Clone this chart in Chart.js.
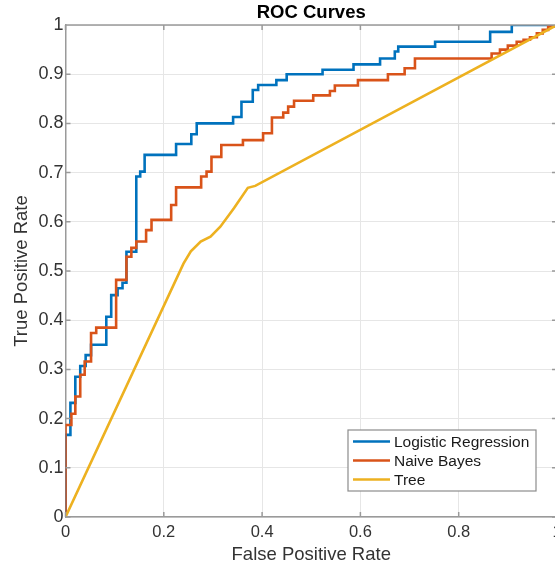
<!DOCTYPE html>
<html>
<head>
<meta charset="utf-8">
<script src="https://cdn.jsdelivr.net/npm/chart.js@4.4.1/dist/chart.umd.min.js"></script>
<style>
  html, body { margin: 0; padding: 0; background: #fff; overflow: hidden; }
  #wrap { width: 557px; height: 569px; }
</style>
</head>
<body>
<div id="wrap"><canvas id="roc"></canvas></div>
<script>
// ROC points: x = false positive rate, y = true positive rate
var lrFpr = [0, 0, 0.010, 0.020, 0.030, 0.041, 0.052, 0.083, 0.093, 0.106, 0.116, 0.124, 0.144, 0.152, 0.161, 0.225, 0.256, 0.267, 0.341, 0.358, 0.381, 0.392, 0.429, 0.450, 0.523, 0.586, 0.640, 0.670, 0.677, 0.752, 0.864, 0.908, 1];
var lrTpr = [0, 0.167, 0.232, 0.285, 0.307, 0.329, 0.350, 0.407, 0.451, 0.465, 0.476, 0.539, 0.692, 0.702, 0.736, 0.758, 0.778, 0.800, 0.813, 0.844, 0.868, 0.878, 0.888, 0.900, 0.909, 0.920, 0.932, 0.946, 0.956, 0.966, 0.986, 1, 1];

var nbFpr = [0, 0, 0.012, 0.020, 0.030, 0.039, 0.052, 0.0625, 0.103, 0.124, 0.134, 0.144, 0.164, 0.175, 0.215, 0.225, 0.276, 0.287, 0.297, 0.317, 0.361, 0.402, 0.420, 0.443, 0.453, 0.465, 0.504, 0.538, 0.548, 0.595, 0.656, 0.690, 0.711, 0.867, 0.884, 0.900, 0.918, 0.932, 0.945, 0.959, 0.971, 0.982, 1];
var nbTpr = [0, 0.187, 0.21, 0.245, 0.289, 0.316, 0.374, 0.385, 0.482, 0.529, 0.547, 0.56, 0.583, 0.604, 0.634, 0.670, 0.692, 0.702, 0.732, 0.756, 0.766, 0.780, 0.812, 0.822, 0.834, 0.846, 0.857, 0.866, 0.877, 0.888, 0.900, 0.912, 0.932, 0.942, 0.950, 0.958, 0.966, 0.970, 0.975, 0.983, 0.990, 0.997, 1];

var treeFpr = [0, 0.240, 0.255, 0.275, 0.295, 0.315, 0.343, 0.371, 0.386, 1];
var treeTpr = [0, 0.515, 0.540, 0.560, 0.570, 0.590, 0.628, 0.669, 0.673, 1];

var seriesNames = ['Logistic Regression', 'Naive Bayes', 'Tree'];
var seriesColors = ['#0072BD', '#D95319', '#EDB120'];

var xTicks = [0, 0.2, 0.4, 0.6, 0.8, 1];
var yTicks = [0, 0.1, 0.2, 0.3, 0.4, 0.5, 0.6, 0.7, 0.8, 0.9, 1];

function toPoints(xs, ys) {
    return xs.map(function (x, i) { return { x: x, y: ys[i] }; });
}

var axisColor = '#9a9a9a';
var textColor = '#333333';
var fontFamily = '"Liberation Sans", Arial, Helvetica, sans-serif';

// matlab style box, inner ticks and the legend inside the axes
var boxPlugin = {
    id: 'matlabBox',
    afterDraw: function (chart) {
        var ctx = chart.ctx;
        var a = chart.chartArea;
        var xs = chart.scales.x, ys = chart.scales.y;
        ctx.save();
        ctx.strokeStyle = axisColor;
        ctx.lineWidth = 1.5;
        ctx.beginPath();
        ctx.moveTo(a.left, a.top);
        ctx.lineTo(a.right, a.top);
        ctx.lineTo(a.right, a.bottom);
        xTicks.forEach(function (t) {
            var px = xs.getPixelForValue(t);
            ctx.moveTo(px, a.bottom); ctx.lineTo(px, a.bottom - 5);
            ctx.moveTo(px, a.top); ctx.lineTo(px, a.top + 5);
        });
        yTicks.forEach(function (t) {
            var py = ys.getPixelForValue(t);
            ctx.moveTo(a.left, py); ctx.lineTo(a.left + 5, py);
            ctx.moveTo(a.right, py); ctx.lineTo(a.right - 5, py);
        });
        ctx.stroke();

        // legend
        var bx = a.right - 209, by = a.bottom - 87, bw = 188, bh = 61;
        ctx.fillStyle = '#ffffff';
        ctx.fillRect(bx, by, bw, bh);
        ctx.lineWidth = 1.2;
        ctx.strokeStyle = '#8c8c8c';
        ctx.strokeRect(bx, by, bw, bh);
        ctx.font = '15.5px ' + fontFamily;
        ctx.textBaseline = 'middle';
        ctx.textAlign = 'left';
        chart.data.datasets.forEach(function (ds, i) {
            var ry = by + 11.5 + i * 19;
            ctx.strokeStyle = ds.borderColor;
            ctx.lineWidth = 2.5;
            ctx.beginPath();
            ctx.moveTo(bx + 5, ry);
            ctx.lineTo(bx + 42, ry);
            ctx.stroke();
            ctx.fillStyle = '#1a1a1a';
            ctx.fillText(ds.label, bx + 46, ry + 1);
        });
        ctx.restore();
    }
};

var ctx = document.getElementById('roc').getContext('2d');
var chart = new Chart(ctx, {
    type: 'line',
    data: {
        datasets: [{
            label: seriesNames[0],
            data: toPoints(lrFpr, lrTpr),
            borderColor: seriesColors[0],
            stepped: 'before',
            order: 3
        }, {
            label: seriesNames[1],
            data: toPoints(nbFpr, nbTpr),
            borderColor: seriesColors[1],
            stepped: 'before',
            order: 2
        }, {
            label: seriesNames[2],
            data: toPoints(treeFpr, treeTpr),
            borderColor: seriesColors[2],
            order: 1
        }]
    },
    options: {
        responsive: true,
        maintainAspectRatio: false,
        animation: false,
        layout: { padding: 0 },
        elements: {
            point: { radius: 0 },
            line: { borderWidth: 2.6, tension: 0, fill: false, borderJoinStyle: 'miter' }
        },
        plugins: {
            legend: { display: false },
            tooltip: { enabled: false },
            title: {
                display: true,
                text: 'ROC Curves',
                fullSize: false,
                color: '#000000',
                font: { family: fontFamily, size: 18.5, weight: 'bold' },
                padding: { top: 2, bottom: 0.8 }
            }
        },
        scales: {
            x: {
                type: 'linear',
                min: 0,
                max: 1,
                afterBuildTicks: function (s) { s.ticks = xTicks.map(function (v) { return { value: v }; }); },
                afterFit: function (s) { s.height = 52; s.paddingLeft = 0; s.paddingRight = 0; },
                ticks: {
                    color: textColor,
                    padding: 6,
                    maxRotation: 0,
                    font: { family: fontFamily, size: 16.5 },
                    callback: function (v) { return String(v); }
                },
                grid: { color: '#e6e6e6', lineWidth: 1, drawTicks: false },
                border: { color: axisColor, width: 1.5 },
                title: {
                    display: true,
                    text: 'False Positive Rate',
                    color: textColor,
                    font: { family: fontFamily, size: 18.5 },
                    padding: { top: 0, bottom: 2.9 }
                }
            },
            y: {
                type: 'linear',
                min: 0,
                max: 1,
                afterBuildTicks: function (s) { s.ticks = yTicks.map(function (v) { return { value: v }; }); },
                afterFit: function (s) { s.width = 65.5; s.paddingTop = 0; s.paddingBottom = 0; },
                ticks: {
                    color: textColor,
                    padding: 2,
                    font: { family: fontFamily, size: 18 },
                    callback: function (v) { return String(v); }
                },
                grid: { color: '#e6e6e6', lineWidth: 1, drawTicks: false },
                border: { color: axisColor, width: 1.5 },
                title: {
                    display: true,
                    text: 'True Positive Rate',
                    color: textColor,
                    font: { family: fontFamily, size: 18.5 },
                    padding: { top: 10.4, bottom: 0 }
                }
            }
        }
    },
    plugins: [boxPlugin]
});
</script>
</body>
</html>
